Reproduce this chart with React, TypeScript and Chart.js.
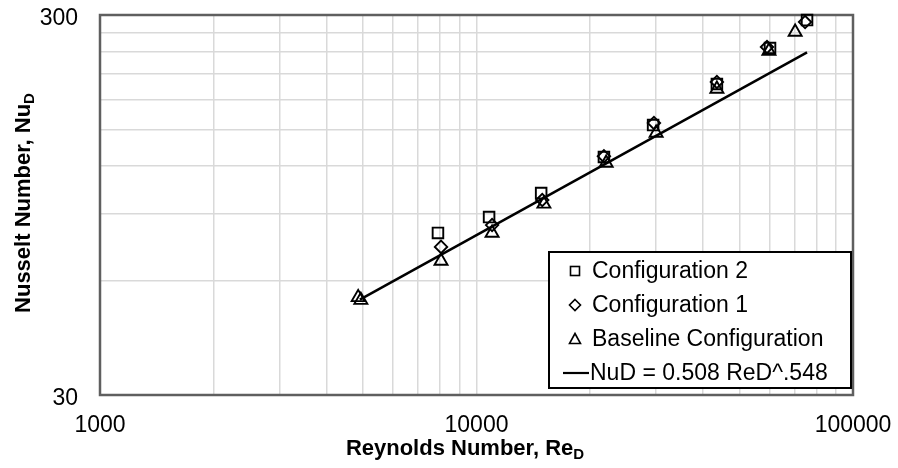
import React, { useEffect, useRef } from "react";
import { Chart, registerables } from "chart.js";

Chart.register(...registerables);

const FONT = "'Liberation Sans', Arial, sans-serif";

// Measured Nusselt numbers per configuration (Reynolds number, Nusselt number)
const config2Re = [7900, 10800, 14850, 21800, 29450, 43500, 60200, 75500];
const config2Nu = [80.1, 88.2, 102.0, 126.9, 154.0, 197.5, 245.6, 291.0];

const config1Re = [8050, 11000, 14950, 21800, 29600, 43500, 59100, 74600];
const config1Nu = [73.6, 84.0, 97.8, 127.5, 155.9, 199.9, 247.1, 287.5];

const baselineRe = [4850, 4930, 8050, 11000, 15100, 22100, 30000, 43500, 59800, 70200];
const baselineNu = [54.2, 53.3, 67.6, 80.1, 95.5, 122.4, 146.8, 191.6, 241.2, 270.6];

// Power-law correlation NuD = 0.508 ReD^0.548 over the tested range
const fitCoefficient = 0.508;
const fitExponent = 0.548;
const fitRe = [4900, 75500];

// Axis ticks (log scales): gridline positions and the subset that is labelled
const xTickValues = [
  1000, 2000, 3000, 4000, 5000, 6000, 7000, 8000, 9000,
  10000, 20000, 30000, 40000, 50000, 60000, 70000, 80000, 90000, 100000,
];
const xTickLabels = [1000, 10000, 100000];
const yTickValues = [30, 60, 90, 120, 150, 180, 210, 240, 270, 300];
const yTickLabels = [30, 300];

const legendLabels = [
  "Configuration 2",
  "Configuration 1",
  "Baseline Configuration",
  "NuD = 0.508 ReD^.548",
];

const toPoints = (xs: number[], ys: number[]) => xs.map((x, i) => ({ x, y: ys[i] }));

function drawSubscripted(
  ctx: CanvasRenderingContext2D,
  main: string,
  sub: string,
  cx: number,
  cy: number,
  rot: number
) {
  ctx.save();
  ctx.translate(cx, cy);
  ctx.rotate(rot);
  const mainFont = `bold 22px ${FONT}`;
  const subFont = `bold 15px ${FONT}`;
  ctx.font = mainFont;
  const w1 = ctx.measureText(main).width;
  ctx.font = subFont;
  const w2 = ctx.measureText(sub).width;
  const left = -(w1 + w2) / 2;
  ctx.fillStyle = "#000";
  ctx.textAlign = "left";
  ctx.textBaseline = "alphabetic";
  ctx.font = mainFont;
  ctx.fillText(main, left, 8);
  ctx.font = subFont;
  ctx.fillText(sub, left + w1, 12);
  ctx.restore();
}

const frameAndTitles = {
  id: "frameAndTitles",
  beforeDatasetsDraw(chart: any) {
    const { ctx, chartArea } = chart;
    ctx.save();
    ctx.strokeStyle = "#5f5f5f";
    ctx.lineWidth = 2.5;
    ctx.strokeRect(chartArea.left, chartArea.top, chartArea.right - chartArea.left, chartArea.bottom - chartArea.top);
    ctx.restore();
  },
  afterDraw(chart: any) {
    const ctx: CanvasRenderingContext2D = chart.ctx;
    drawSubscripted(ctx, "Reynolds Number, Re", "D", 465, 447, 0);
    drawSubscripted(ctx, "Nusselt Number, Nu", "D", 22, 203, -Math.PI / 2);

    // Legend box inside the plot area
    const bx = 549, by = 252, bw = 302, bh = 136;
    ctx.save();
    ctx.fillStyle = "#fff";
    ctx.fillRect(bx, by, bw, bh);
    ctx.strokeStyle = "#000";
    ctx.lineWidth = 2;
    ctx.strokeRect(bx, by, bw, bh);

    const mx = 575;
    const rows = [271, 305, 339, 373];
    ctx.lineWidth = 1.6;
    ctx.strokeStyle = "#000";
    // square
    ctx.strokeRect(mx - 4.5, rows[0] - 4.5, 9, 9);
    // diamond
    ctx.beginPath();
    ctx.moveTo(mx, rows[1] - 5.5);
    ctx.lineTo(mx + 5.5, rows[1]);
    ctx.lineTo(mx, rows[1] + 5.5);
    ctx.lineTo(mx - 5.5, rows[1]);
    ctx.closePath();
    ctx.stroke();
    // triangle
    ctx.beginPath();
    ctx.moveTo(mx, rows[2] - 5.5);
    ctx.lineTo(mx + 5.5, rows[2] + 4.5);
    ctx.lineTo(mx - 5.5, rows[2] + 4.5);
    ctx.closePath();
    ctx.stroke();
    // line sample
    ctx.lineWidth = 2.2;
    ctx.beginPath();
    ctx.moveTo(563, rows[3]);
    ctx.lineTo(589, rows[3]);
    ctx.stroke();

    ctx.fillStyle = "#000";
    ctx.font = `23px ${FONT}`;
    ctx.textAlign = "left";
    ctx.textBaseline = "middle";
    ctx.fillText(legendLabels[0], 592, rows[0] + 1);
    ctx.fillText(legendLabels[1], 592, rows[1] + 1);
    ctx.fillText(legendLabels[2], 592, rows[2] + 1);
    ctx.fillText(legendLabels[3], 590, rows[3] + 1);
    ctx.restore();
  },
};

export default function App() {
  const canvasRef = useRef<HTMLCanvasElement | null>(null);

  useEffect(() => {
    if (!canvasRef.current) return;
    const fitPoints = fitRe.map((re) => ({ x: re, y: fitCoefficient * Math.pow(re, fitExponent) }));

    const markerStyle = {
      backgroundColor: "rgba(0,0,0,0)",
      borderColor: "#000",
      pointBorderColor: "#000",
      pointBackgroundColor: "rgba(0,0,0,0)",
      pointBorderWidth: 1.9,
      showLine: false,
      clip: false as any,
    };

    const chart = new Chart(canvasRef.current, {
      type: "scatter",
      data: {
        datasets: [
          {
            label: "NuD = 0.508 ReD^.548",
            type: "line",
            data: fitPoints,
            borderColor: "#000",
            borderWidth: 2.5,
            pointRadius: 0,
            showLine: true,
            fill: false,
            order: 4,
          } as any,
          {
            label: "Baseline Configuration",
            data: toPoints(baselineRe, baselineNu),
            pointStyle: "triangle",
            pointRadius: 7.5,
            order: 3,
            ...markerStyle,
          },
          {
            label: "Configuration 1",
            data: toPoints(config1Re, config1Nu),
            pointStyle: "rectRot",
            pointRadius: 6.2,
            order: 2,
            ...markerStyle,
          },
          {
            label: "Configuration 2",
            data: toPoints(config2Re, config2Nu),
            pointStyle: "rect",
            pointRadius: 7.5,
            order: 1,
            ...markerStyle,
          },
        ],
      },
      options: {
        animation: false,
        responsive: false,
        events: [],
        layout: { padding: { top: 15, right: 45, left: 0, bottom: 0 } },
        plugins: {
          legend: { display: false },
          tooltip: { enabled: false },
          title: { display: false },
        },
        scales: {
          x: {
            type: "logarithmic",
            min: 1000,
            max: 100000,
            afterBuildTicks: (scale: any) => {
              scale.ticks = xTickValues.map((v) => ({ value: v }));
            },
            afterFit: (scale: any) => {
              scale.height = 73;
              scale.paddingLeft = 0;
              scale.paddingRight = 0;
            },
            grid: { color: "#d9d9d9", lineWidth: 1.5, drawTicks: false },
            border: { display: false },
            ticks: {
              autoSkip: false,
              maxRotation: 0,
              padding: 17,
              color: "#000",
              font: { family: FONT, size: 23 },
              callback: (v: any) => (xTickLabels.includes(Number(v)) ? String(v) : ""),
            },
          },
          y: {
            type: "logarithmic",
            min: 30,
            max: 300,
            afterBuildTicks: (scale: any) => {
              scale.ticks = yTickValues.map((v) => ({ value: v }));
            },
            afterFit: (scale: any) => {
              scale.width = 100;
              scale.paddingTop = 0;
              scale.paddingBottom = 0;
            },
            grid: { color: "#d9d9d9", lineWidth: 1.5, drawTicks: false },
            border: { display: false },
            ticks: {
              autoSkip: false,
              padding: 22,
              labelOffset: 4,
              color: "#000",
              font: { family: FONT, size: 23 },
              callback: (v: any) => (yTickLabels.includes(Number(v)) ? String(v) : ""),
            },
          },
        },
      },
      plugins: [frameAndTitles],
    });

    return () => chart.destroy();
  }, []);

  return (
    <div style={{ position: "fixed", left: 0, top: 0, width: 898, height: 468, background: "#fff" }}>
      <canvas ref={canvasRef} width={898} height={468} style={{ width: 898, height: 468 }} />
    </div>
  );
}
